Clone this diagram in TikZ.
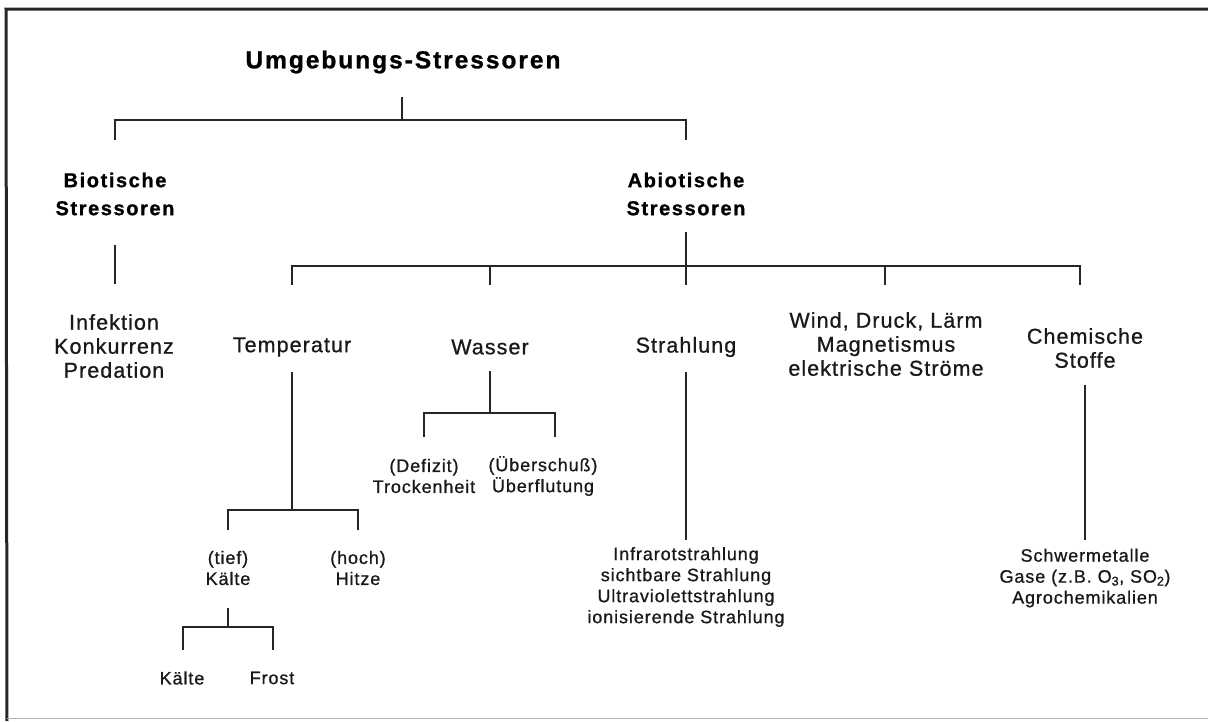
\documentclass[tikz,border=0pt]{standalone}
\usepackage{fontspec}
\setmainfont{Liberation Sans}
\newfontfamily\hfont{Liberation Sans}[LetterSpace=8,FakeBold=1]
\newfontfamily\rfont{Liberation Sans}[LetterSpace=5,FakeBold=0.8]
\tikzset{
  ttl/.style={font=\hfont\bfseries\fontsize{24.5}{28}\selectfont, inner sep=0pt},
  hd/.style={font=\hfont\bfseries\fontsize{20}{28}\selectfont, align=center, inner sep=0pt},
  lbb/.style={font=\rfont\fontsize{21.5}{24}\selectfont, align=center, inner sep=0pt, text=black!90},
  lbs/.style={font=\rfont\fontsize{18}{21}\selectfont, align=center, inner sep=0pt, text=black!90},
  ln/.style={line width=2pt, black!85},
  frm/.style={line width=3pt, black!85}
}
\begin{document}
\begin{tikzpicture}[x=1pt,y=-1pt]
\useasboundingbox (0,0) rectangle (1208,721);
\fill[white] (0,0) rectangle (1208,721);
% frame
\coordinate (f1) at (6,9);
\coordinate (f2) at (1208,9);
\coordinate (f3) at (7,721);
\coordinate (f4) at (7,718);
\coordinate (f5) at (1208,718);
\draw[frm] (f2) -- (f1) -- (f3);
\draw[line width=1pt, black!30] (f4) -- (f5);

% level 0
\node[ttl] (title) at (403,62) {Umgebungs-Stressoren};
\coordinate (t0) at (402,97);
\coordinate (t1) at (402,120);
\coordinate (b0) at (115,140);
\coordinate (a0) at (686,140);
\draw[ln] (t0) -- (t1);
\draw[ln] (b0) |- (t1) -| (a0);

% level 1
\node[hd] (bio) at (115,194) {Biotische\\Stressoren};
\node[hd] (abio) at (686,194) {Abiotische\\Stressoren};

% biotic
\coordinate (bl0) at (115,245);
\coordinate (bl1) at (115,284);
\draw[ln] (bl0) -- (bl1);
\node[lbb] (biol) at (114,346) {Infektion\\Konkurrenz\\Predation};

% abiotic
\coordinate (as0) at (686,232);
\coordinate (as1) at (686,266);
\coordinate (c1) at (292,285);
\coordinate (c2) at (490,285);
\coordinate (c3) at (686,285);
\coordinate (c4) at (885,285);
\coordinate (c5) at (1080,285);
\draw[ln] (as0) -- (c3);
\draw[ln] (c1) |- (as1) -| (c5);
\draw[ln] (c2) -- (c2|-as1);
\draw[ln] (c4) -- (c4|-as1);

\node[lbb] (temp) at (292,347) {Temperatur};
\node[lbb] (wass) at (490,347) {Wasser};
\node[lbb] (strl) at (686,347) {Strahlung};
\node[lbb] (wind) at (886,344) {Wind, Druck, Lärm\\Magnetismus\\elektrische Ströme};
\node[lbb] (chem) at (1085,348) {Chemische\\Stoffe};

% Temperatur subtree
\coordinate (tl0) at (292,372);
\coordinate (tl1) at (292,510);
\coordinate (k0) at (228,530);
\coordinate (h0) at (358,530);
\draw[ln] (tl0) -- (tl1);
\draw[ln] (k0) |- (tl1) -| (h0);
\node[lbs] (tief) at (228,568) {(tief)\\Kälte};
\node[lbs] (hoch) at (358,568) {(hoch)\\Hitze};
\coordinate (ks0) at (228,608);
\coordinate (ks1) at (228,627);
\coordinate (kk) at (183,650);
\coordinate (kf) at (273,650);
\draw[ln] (ks0) -- (ks1);
\draw[ln] (kk) |- (ks1) -| (kf);
\node[lbs] (kalt) at (182,678) {Kälte};
\node[lbs] (frost) at (272,678) {Frost};

% Wasser subtree
\coordinate (ws0) at (490,371);
\coordinate (ws1) at (490,413);
\coordinate (wd) at (424,437);
\coordinate (wu) at (555,437);
\draw[ln] (ws0) -- (ws1);
\draw[ln] (wd) |- (ws1) -| (wu);
\node[lbs] (defz) at (424,476) {(Defizit)\\Trockenheit};
\node[lbs] (ubsc) at (543,476) {(Überschuß)\\Überflutung};

% Strahlung subtree
\coordinate (sl0) at (686,372);
\coordinate (sl1) at (686,540);
\draw[ln] (sl0) -- (sl1);
\node[lbs] (strlist) at (686,587) {Infrarotstrahlung\\sichtbare Strahlung\\Ultraviolettstrahlung\\ionisierende Strahlung};

% Chemische subtree
\coordinate (cl0) at (1085,385);
\coordinate (cl1) at (1085,540);
\draw[ln] (cl0) -- (cl1);
\node[lbs] (chlist) at (1085,578) {Schwermetalle\\Gase (z.B. O\textsubscript{3}, SO\textsubscript{2})\\Agrochemikalien};
\end{tikzpicture}
\end{document}
